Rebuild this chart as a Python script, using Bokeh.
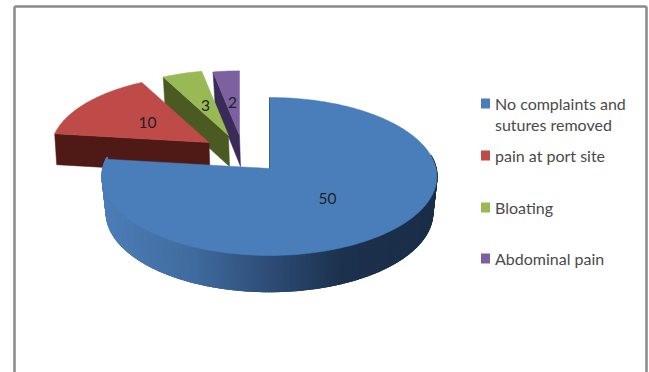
import math
from bokeh.embed import file_html
from bokeh.resources import INLINE
from bokeh.plotting import figure
from bokeh.core.properties import value

# Survey outcomes shown as an exploded 3-D pie
categories = ["No complaints and\nsutures removed", "pain at port site", "Bloating", "Abdominal pain"]
counts = [50, 10, 3, 2]
top_colors = ["#4a7ebb", "#be4b48", "#98b954", "#7d60a0"]
side_colors = [None, "#4f1a16", "#4a5a22", "#3a2a58"]

W, H = 649, 372
AX, AY = 269.0, 168.0    # hub of the unexploded slice
RX, RY = 166.5, 78.2     # projected radii
K = 0.101                # perspective strength
DEPTH = 36.0

# per-slice layout: hub displacement and radial scale
explode = [(0, 0), (-60.5, -26), (-41, -33), (-30, -33)]
scales = [1.0, 0.945, 0.92, 0.91]
label_at = [(327, 198), (147, 122), (205, 105), (232, 102)]
legend_y = [103, 155, 207, 258]

p = figure(width=W, height=H, x_range=(0, W), y_range=(H, 0), output_backend="svg",
           toolbar_location=None, min_border=0, outline_line_color=None)
p.axis.visible = False
p.grid.visible = False
p.background_fill_color = "white"
p.border_fill_color = "white"


def rim(theta_deg, hub, scale):
    """Screen position of a rim point; theta runs clockwise from twelve o'clock."""
    t = math.radians(theta_deg)
    u, v = math.sin(t), -math.cos(t)
    w = 1 - K * v
    return hub[0] + scale * RX * u / w, hub[1] + scale * RY * v / w


def sweep(a, b, hub, scale, step=1.0):
    n = max(2, int(abs(b - a) / step) + 1)
    return [rim(a + (b - a) * i / (n - 1), hub, scale) for i in range(n)]


def mix(c1, c2, f):
    return "#%02x%02x%02x" % tuple(round(x + (y - x) * f) for x, y in zip(c1, c2))


def blue_side_color(x):
    stops = [(105, (76, 125, 182)), (190, (64, 107, 158)), (270, (44, 75, 116)),
             (340, (28, 49, 78)), (435, (27, 46, 72))]
    for (x0, c0), (x1, c1) in zip(stops, stops[1:]):
        if x <= x1:
            return mix(c0, c1, max(0, (x - x0) / (x1 - x0)))
    return mix(stops[-1][1], stops[-1][1], 0)


total = sum(counts)
spans = []
start = 0.0
for c in counts:
    spans.append((start, start + 360.0 * c / total))
    start += 360.0 * c / total

# Frame around the chart area
p.segment([14, 14, 646], [6, 6, 6], [14, 646, 646], [H, 6, H], line_color="#8a8a8a", line_width=2.5)

# Exploded slices, back to front
for i in (3, 2, 1):
    a, b = spans[i]
    hub = (AX + explode[i][0], AY + explode[i][1])
    corner = rim(a, hub, scales[i])
    d = 31
    # cut face on the side of the slice that is turned to the viewer
    p.patch([corner[0], hub[0], hub[0] + 1, corner[0] + 2],
            [corner[1], hub[1], hub[1] + d, corner[1] + d],
            fill_color=side_colors[i], line_color=side_colors[i], line_width=0.5)
    pts = [hub] + sweep(a, b, hub, scales[i])
    p.patch([q[0] for q in pts], [q[1] for q in pts],
            fill_color=top_colors[i], line_color=top_colors[i], line_width=0.5)

# Main slice: shaded wall first, then the top face; neighbouring bands overlap to hide seams
a, b = spans[0]
hub = (AX, AY)
lo = 0.975
for th in range(80, 277):
    p1, p2 = rim(th, hub, 1), rim(th + 2.5, hub, 1)
    xs = [p1[0], p2[0], AX + (p2[0] - AX) * lo, AX + (p1[0] - AX) * lo]
    ys = [p1[1], p2[1], p2[1] + DEPTH, p1[1] + DEPTH]
    col = blue_side_color((p1[0] + p2[0]) / 2)
    p.patch(xs, ys, fill_color=col, line_color=col, line_width=1.5)

pts = [hub] + sweep(a, b, hub, 1)
p.patch([q[0] for q in pts], [q[1] for q in pts], fill_color=top_colors[0], line_color=top_colors[0], line_width=0.5)
top = rim(0, hub, 1)
p.line([hub[0], top[0]], [hub[1], top[1]], line_color="#2f5079", line_width=0.8)

# Value labels
p.text([q[0] for q in label_at], [q[1] for q in label_at], text=[str(c) for c in counts],
       text_font=value("Lato"), text_font_size="15.5px", text_color="#1f1f1f",
       text_align="center", text_baseline="middle")

# Legend
for name, col, y in zip(categories, top_colors, legend_y):
    p.quad(left=[480.5], right=[489.5], top=[y - 5], bottom=[y + 5], fill_color=col, line_color=None)
    for j, line in enumerate(name.split("\n")):
        p.text([494.5], [y + j * 20.5], text=[line], text_font=value("Lato"), text_font_size="16px",
               text_color="#4a4a4a", text_align="left", text_baseline="middle")

open("out.html", "w").write(file_html(p, INLINE))
